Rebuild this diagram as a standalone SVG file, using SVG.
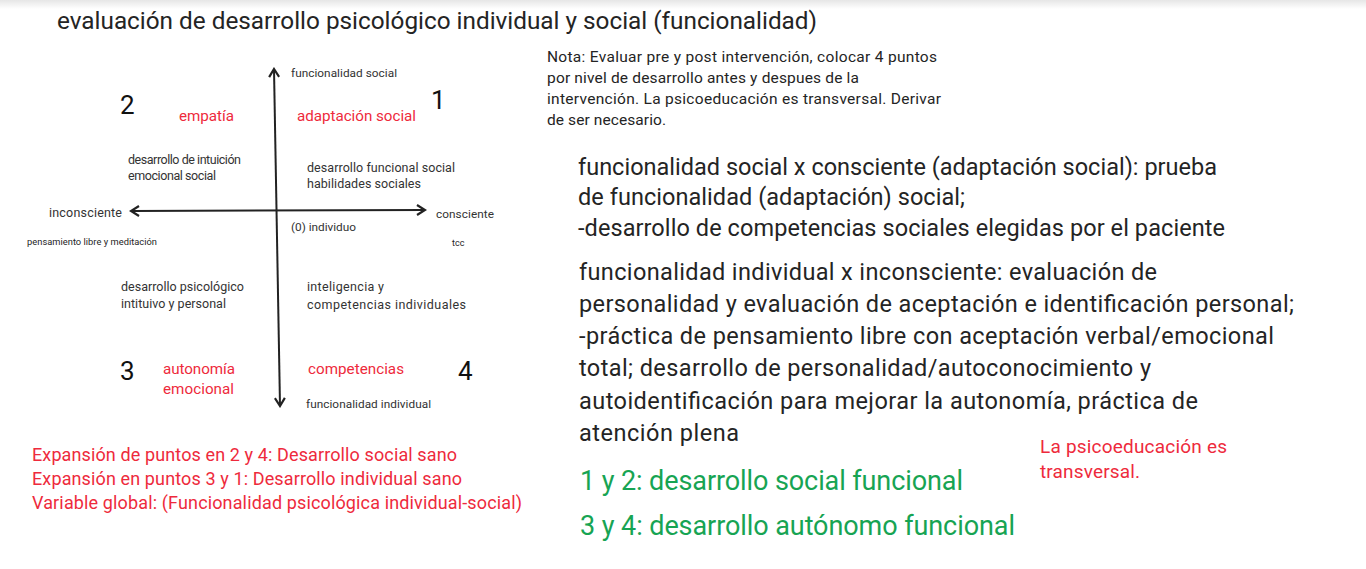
<svg xmlns="http://www.w3.org/2000/svg" width="1366" height="569" viewBox="0 0 1366 569">
<style>
text{font-family:Roboto,"Liberation Sans",sans-serif;fill:#242424}
.red{fill:#ee2a3c}
.green{fill:#17a453}
.s{font-size:11.8px;fill:#333}
.m{font-size:12.5px;fill:#333}
.r14{font-size:15.2px}
.num{font-size:26px;fill:#111}
.big{font-size:23.5px}
.axis{stroke:#222;stroke-width:2;fill:none}
</style>
<defs>
<linearGradient id="top" x1="0" y1="0" x2="0" y2="1"><stop offset="0" stop-color="#e6e6e6"/><stop offset="1" stop-color="#ffffff"/></linearGradient>
<marker id="ah" viewBox="0 0 12 12" refX="10" refY="6" markerWidth="12" markerHeight="12" markerUnits="userSpaceOnUse" orient="auto-start-reverse"><path d="M2,1 L10,6 L2,11" fill="none" stroke="#222" stroke-width="2.2"/></marker>
</defs>
<rect width="1366" height="569" fill="#fff"/>
<rect width="1366" height="9" fill="url(#top)"/>
<text id="title" x="57" y="29" font-size="23" textLength="760" lengthAdjust="spacingAndGlyphs">evaluación de desarrollo psicológico individual y social (funcionalidad)</text>
<g id="connectors">
<line class="axis" x1="280" y1="406" x2="274" y2="69" marker-start="url(#ah)" marker-end="url(#ah)"/>
<line class="axis" x1="131" y1="211" x2="425" y2="210" marker-start="url(#ah)" marker-end="url(#ah)"/>
</g>
<g id="axis-labels">
<text class="s" x="291" y="77" textLength="106">funcionalidad social</text>
<text class="s" x="306" y="408" textLength="125">funcionalidad individual</text>
<text class="m" x="49" y="217" textLength="73">inconsciente</text>
<text class="s" x="436" y="218" textLength="58">consciente</text>
<text class="s" x="291" y="231" textLength="65">(0) individuo</text>
<text x="27" y="245" font-size="9.3" fill="#333" textLength="130">pensamiento libre y meditación</text>
<text x="452" y="246" font-size="9" fill="#333">tcc</text>
</g>
<g id="q1">
<text class="num" x="431" y="109">1</text>
<text class="r14 red" x="297" y="121" textLength="119">adaptación social</text>
<text class="m" x="307" y="172" textLength="148">desarrollo funcional social</text>
<text class="m" x="307" y="188" textLength="114">habilidades sociales</text>
</g>
<g id="q2">
<text class="num" x="120" y="114">2</text>
<text class="r14 red" x="179" y="121" textLength="55">empatía</text>
<text class="m" x="128" y="164" textLength="113">desarrollo de intuición</text>
<text class="m" x="128" y="180" textLength="88">emocional social</text>
</g>
<g id="q3">
<text class="num" x="120" y="380">3</text>
<text class="r14 red" x="163" y="374" textLength="72">autonomía</text>
<text class="r14 red" x="163" y="394" textLength="71">emocional</text>
<text class="m" x="121" y="291" textLength="123">desarrollo psicológico</text>
<text class="m" x="121" y="308" textLength="105">intituivo y personal</text>
</g>
<g id="q4">
<text class="num" x="458" y="380">4</text>
<text class="r14 red" x="308" y="374" textLength="96">competencias</text>
<text class="m" x="307" y="291" textLength="77">inteligencia y</text>
<text class="m" x="307" y="309" textLength="159">competencias individuales</text>
</g>
<g id="legend" font-size="18">
<text class="red" x="32" y="461" textLength="425">Expansión de puntos en 2 y 4: Desarrollo social sano</text>
<text class="red" x="32" y="485" textLength="430">Expansión en puntos 3 y 1: Desarrollo individual sano</text>
<text class="red" x="32" y="509" textLength="490">Variable global: (Funcionalidad psicológica individual-social)</text>
</g>
<g id="nota" font-size="15.5">
<text x="547" y="62" textLength="390">Nota: Evaluar pre y post intervención, colocar 4 puntos</text>
<text x="547" y="83" textLength="312">por nivel de desarrollo antes y despues de la</text>
<text x="547" y="104" textLength="394">intervención. La psicoeducación es transversal. Derivar</text>
<text x="547" y="125" textLength="119">de ser necesario.</text>
</g>
<g id="block1">
<text class="big" x="578" y="175" textLength="639">funcionalidad social x consciente (adaptación social): prueba</text>
<text class="big" x="578" y="205" textLength="387">de funcionalidad (adaptación) social;</text>
<text class="big" x="578" y="236" textLength="647">-desarrollo de competencias sociales elegidas por el paciente</text>
</g>
<g id="block2">
<text class="big" x="579" y="280" textLength="578">funcionalidad individual x inconsciente: evaluación de</text>
<text class="big" x="579" y="312" textLength="715">personalidad y evaluación de aceptación e identificación personal;</text>
<text class="big" x="579" y="344" textLength="695">-práctica de pensamiento libre con aceptación verbal/emocional</text>
<text class="big" x="579" y="376" textLength="572">total; desarrollo de personalidad/autoconocimiento y</text>
<text class="big" x="579" y="409" textLength="619">autoidentificación para mejorar la autonomía,  práctica de</text>
<text class="big" x="579" y="441" textLength="160">atención plena</text>
</g>
<g id="psico" font-size="19">
<text class="red" x="1040" y="453" textLength="187">La psicoeducación es</text>
<text class="red" x="1040" y="478" textLength="100">transversal.</text>
</g>
<g id="summary" font-size="27">
<text class="green" x="580" y="490" textLength="383">1 y 2: desarrollo social funcional</text>
<text class="green" x="580" y="535" textLength="435">3 y 4: desarrollo autónomo funcional</text>
</g>
</svg>
